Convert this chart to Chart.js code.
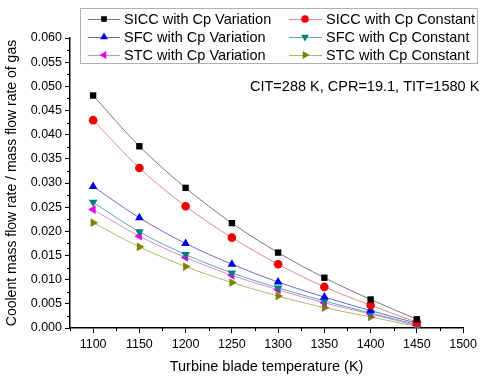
<!DOCTYPE html>
<html>
<head>
<meta charset="utf-8">
<script src="https://cdn.jsdelivr.net/npm/chart.js@4"></script>
<style>
  html, body { margin: 0; padding: 0; background: #fff; }
  #wrap { width: 481px; height: 376px; position: relative; }
</style>
</head>
<body>
<div id="wrap"><canvas id="myChart" width="481" height="376"></canvas></div>
<script>
// blade temperatures (K)
const temps = [1100, 1150, 1200, 1250, 1300, 1350, 1400, 1450];
const xTickLabels = [1100, 1150, 1200, 1250, 1300, 1350, 1400, 1450, 1500];

// coolant / gas mass flow ratio
const siccVar   = [0.0481, 0.0376, 0.0290, 0.0217, 0.0156, 0.0104, 0.0059, 0.0018];
const siccConst = [0.0430, 0.0331, 0.0252, 0.0187, 0.0132, 0.0085, 0.0047, 0.0012];
const sfcVar    = [0.0293, 0.0228, 0.0175, 0.0132, 0.0095, 0.0064, 0.0036, 0.0010];
const sfcConst  = [0.0260, 0.0199, 0.0152, 0.0114, 0.0083, 0.0056, 0.0031, 0.0007];
const stcVar    = [0.0245, 0.0190, 0.0146, 0.0109, 0.0079, 0.0052, 0.0029, 0.0005];
const stcConst  = [0.0218, 0.0168, 0.0127, 0.0094, 0.0066, 0.0042, 0.0023, 0.0003];

const seriesNames = [
    'SICC with Cp Variation', 'SICC with Cp Constant',
    'SFC with Cp Variation', 'SFC with Cp Constant',
    'STC with Cp Variation', 'STC with Cp Constant'
];

const noteText = 'CIT=288 K, CPR=19.1, TIT=1580 K';

const FONT = 'Arial, "Liberation Sans", sans-serif';

function makeSet(label, values, color, lineColor, style, rotation, radius) {
    return {
        label: label,
        data: temps.map((t, i) => ({ x: t, y: values[i] })),
        borderColor: lineColor,
        backgroundColor: color,
        pointBackgroundColor: color,
        pointBorderColor: color,
        pointBorderWidth: 0,
        pointStyle: style,
        rotation: rotation,
        pointRadius: radius,
        borderWidth: 1,
        tension: 0.4,
        cubicInterpolationMode: 'monotone',
        fill: false
    };
}

const datasets = [
    makeSet(seriesNames[0], siccVar,   '#000000', '#777777', 'rect', 0, 4.5),
    makeSet(seriesNames[1], siccConst, '#ee0000', '#e08a8a', 'circle', 0, 4.3),
    makeSet(seriesNames[2], sfcVar,    '#0000dd', '#6a6ad0', 'triangle', 0, 5),
    makeSet(seriesNames[3], sfcConst,  '#007f7f', '#5fa8a8', 'triangle', 180, 5),
    makeSet(seriesNames[4], stcVar,    '#ee00ee', '#d88ad8', 'triangle', -90, 5),
    makeSet(seriesNames[5], stcConst,  '#808000', '#b4b46e', 'triangle', 90, 5)
];

// minor ticks, legend box and the condition note
const extras = {
    id: 'extras',
    afterDraw(chart) {
        const ctx = chart.ctx;
        const xs = chart.scales.x, ys = chart.scales.y;
        ctx.save();
        ctx.strokeStyle = '#000';
        ctx.lineWidth = 1;
        ctx.beginPath();
        for (let v = 1075; v <= 1500; v += 50) {
            const px = Math.round(xs.getPixelForValue(v)) + 0.5;
            ctx.moveTo(px, xs.top);
            ctx.lineTo(px, xs.top + 3);
        }
        for (let v = 0.0025; v < 0.06; v += 0.005) {
            const py = Math.round(ys.getPixelForValue(v)) + 0.5;
            ctx.moveTo(ys.right, py);
            ctx.lineTo(ys.right - 3, py);
        }
        ctx.stroke();

        // legend
        ctx.fillStyle = '#fff';
        ctx.fillRect(80, 8, 397, 55);
        ctx.strokeStyle = '#b0b0b0';
        ctx.strokeRect(80.5, 8.5, 397, 55);
        ctx.font = '14.5px ' + FONT;
        ctx.textBaseline = 'middle';
        const cols = [[88, 120, 104, 124], [289, 322, 305, 326]];
        chart.data.datasets.forEach((ds, i) => {
            const c = cols[i % 2];
            const y = 19 + Math.floor(i / 2) * 18;
            ctx.strokeStyle = ds.borderColor;
            ctx.beginPath();
            ctx.moveTo(c[0], y + 0.5);
            ctx.lineTo(c[1], y + 0.5);
            ctx.stroke();
            ctx.fillStyle = ds.pointBackgroundColor;
            ctx.strokeStyle = ds.pointBorderColor;
            Chart.helpers.drawPoint(ctx, {
                pointStyle: ds.pointStyle,
                rotation: ds.rotation,
                radius: ds.pointRadius - 0.5,
                borderWidth: 0
            }, c[2], y);
            ctx.fillStyle = '#000';
            ctx.fillText(ds.label, c[3], y + 1);
        });

        ctx.fillStyle = '#000';
        ctx.font = '14.5px ' + FONT;
        ctx.fillText(noteText, 250, 87);
        ctx.restore();
    }
};

const ctx = document.getElementById('myChart').getContext('2d');
new Chart(ctx, {
    type: 'line',
    data: { datasets: datasets },
    options: {
        responsive: false,
        animation: false,
        layout: { padding: { top: 38, right: 16, left: 0, bottom: 0 } },
        plugins: {
            legend: { display: false },
            tooltip: { enabled: false }
        },
        scales: {
            x: {
                type: 'linear',
                min: 1075,
                max: 1500,
                afterBuildTicks: scale => {
                    scale.ticks = xTickLabels.map(v => ({ value: v }));
                },
                afterFit: scale => { scale.height = 48; },
                grid: { drawOnChartArea: false, drawTicks: true, tickLength: 5, tickColor: '#000' },
                border: { color: '#000', width: 1.5 },
                ticks: {
                    color: '#000',
                    font: { family: FONT, size: 12.5 },
                    padding: 4,
                    maxRotation: 0,
                    callback: v => String(v)
                },
                title: {
                    display: true,
                    text: 'Turbine blade temperature (K)',
                    color: '#000',
                    font: { family: FONT, size: 14.5 },
                    padding: { top: 3, bottom: 0 }
                }
            },
            y: {
                min: 0,
                max: 0.06,
                afterBuildTicks: scale => {
                    const t = [];
                    for (let i = 0; i <= 12; i++) t.push({ value: i * 0.005 });
                    scale.ticks = t;
                },
                afterFit: scale => { scale.width = 70; },
                grid: { drawOnChartArea: false, drawTicks: true, tickLength: 5, tickColor: '#000' },
                border: { color: '#000', width: 1.5 },
                ticks: {
                    color: '#000',
                    font: { family: FONT, size: 12.5 },
                    padding: 3,
                    callback: v => v.toFixed(3)
                },
                title: {
                    display: true,
                    text: 'Coolent mass flow rate / mass flow rate of gas',
                    color: '#000',
                    font: { family: FONT, size: 14 },
                    padding: { top: 4, bottom: 2 }
                }
            }
        }
    },
    plugins: [extras]
});
</script>
</body>
</html>
